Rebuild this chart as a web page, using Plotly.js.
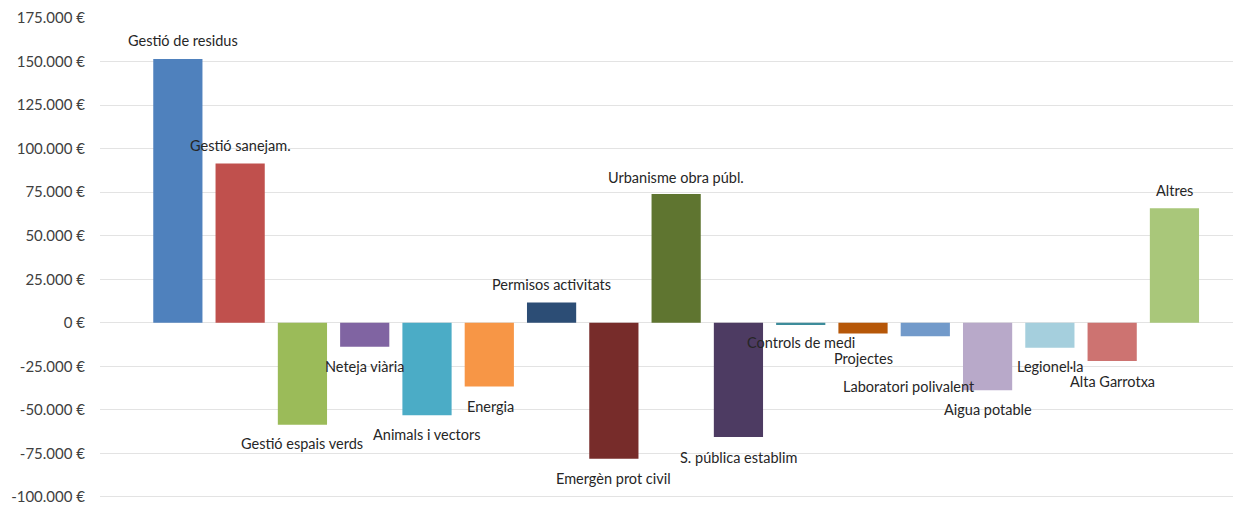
<!DOCTYPE html>
<html>
<head>
<meta charset="utf-8">
<script src="https://cdn.plot.ly/plotly-3.0.1.min.js"></script>
<style>html,body{margin:0;padding:0;background:#fff;}#chart{width:1233px;height:505px;}</style>
</head>
<body>
<div id="chart"></div>
<script>
// ---- data ----
const categories = [
  "Gestió de residus", "Gestió sanejam.", "Gestió espais verds", "Neteja viària",
  "Animals i vectors", "Energia", "Permisos activitats", "Emergèn prot civil",
  "Urbanisme obra públ.", "S. pública establim", "Controls de medi", "Projectes",
  "Laboratori polivalent", "Aigua potable", "Legionel·la", "Alta Garrotxa", "Altres"
];
const values = [
  151500, 91500, -58500, -13800,
  -53100, -36600, 11700, -78000,
  73900, -65600, -1200, -6100,
  -7700, -38700, -14400, -22000, 65800
];
const tickValues = [175000, 150000, 125000, 100000, 75000, 50000, 25000, 0, -25000, -50000, -75000, -100000];
const tickLabels = ["175.000 €", "150.000 €", "125.000 €", "100.000 €", "75.000 €", "50.000 €", "25.000 €", "0 €", "-25.000 €", "-50.000 €", "-75.000 €", "-100.000 €"];

// ---- styles ----
const colors = [
  "#4F81BD", "#C0504D", "#9BBB59", "#8064A2", "#4BACC6", "#F79646", "#2C4D75", "#772C2A",
  "#5F7530", "#4D3B62", "#3D8C9B", "#B65708", "#729ACA", "#B8A9C9", "#A5CFDD", "#CD7371", "#A9C77A"
];
// label offsets in pixels (x, y) relative to bar end
const labelShiftY = [18, 18, -19, -20, -19, -20, 18, -20, 17, -20, -18, -25, -50, -19, -19, -20, 18];
const labelShiftX = [5, 0, 0, 0, 0, 1, 0, 0, 0, 0, 0, 0, -16, 0, 0, 0, 0];

const FONT = "Lato, 'Open Sans', sans-serif";
const xIdx = categories.map((c, i) => i);

const trace = {
  type: "bar",
  x: xIdx,
  y: values,
  marker: { color: colors, line: { width: 0 } },
  hoverinfo: "skip"
};

const annotations = categories.map((c, i) => ({
  x: i,
  y: values[i],
  xref: "x",
  yref: "y",
  text: c,
  showarrow: false,
  xanchor: "center",
  yanchor: "middle",
  xshift: labelShiftX[i],
  yshift: labelShiftY[i],
  font: { family: FONT, size: 14.5, color: "#262626" }
}));

const layout = {
  width: 1233,
  height: 505,
  margin: { l: 100, r: 0, t: 18, b: 7 },
  paper_bgcolor: "#ffffff",
  plot_bgcolor: "#ffffff",
  showlegend: false,
  bargap: 0.21,
  xaxis: {
    range: [-1.25, 16.94],
    showticklabels: false,
    showgrid: false,
    zeroline: false,
    showline: false,
    ticks: ""
  },
  yaxis: {
    range: [-100600, 175000],
    tickvals: tickValues,
    ticktext: tickLabels,
    showgrid: true,
    gridcolor: "#e3e3e3",
    gridwidth: 1,
    zeroline: true,
    zerolinecolor: "#e3e3e3",
    zerolinewidth: 1,
    showline: false,
    ticks: "",
    ticklabelstandoff: 14,
    ticklabeloverflow: "allow",
    tickfont: { family: FONT, size: 15, color: "#404040" }
  },
  annotations: annotations
};

Plotly.newPlot("chart", [trace], layout, { staticPlot: true, displayModeBar: false });
</script>
</body>
</html>
